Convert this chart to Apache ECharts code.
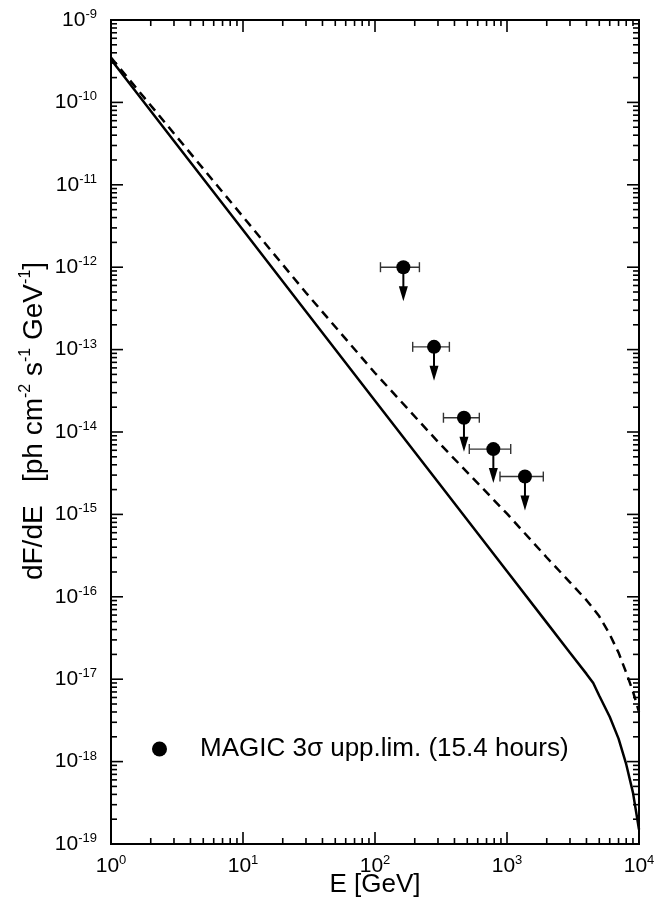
<!DOCTYPE html>
<html><head><meta charset="utf-8">
<script src="https://cdn.jsdelivr.net/npm/echarts@6/dist/echarts.min.js"></script>
<style>html,body{margin:0;padding:0;background:#fff}#c{width:668px;height:898px}</style>
</head><body><div id="c"></div>
<script>
// ---- data ----
const energyGrid = [1, 3, 10, 30, 100, 300, 1000, 2000, 3000, 4000, 4500, 5000, 6000, 7000, 8000, 9000, 10000];
const fluxSolid  = [3.31e-10, 3.41e-11, 2.82e-12, 2.90e-13, 2.40e-14, 2.47e-15, 2.04e-16, 4.86e-17, 2.10e-17, 1.16e-17, 9.0e-18, 6.3e-18, 3.5e-18, 1.9e-18, 9.3e-19, 4.2e-19, 1.5e-19];
const fluxDashed = [3.5e-10, 4.2e-11, 4.1e-12, 4.9e-13, 5.2e-14, 7.6e-15, 1.02e-15, 3.0e-16, 1.5e-16, 9.1e-17, 7.2e-17, 5.8e-17, 3.5e-17, 2.1e-17, 1.2e-17, 7.1e-18, 4.0e-18];
const magicE   = [164, 280, 472, 788, 1368];
const magicF   = [1.0e-12, 1.08e-13, 1.49e-14, 6.2e-15, 2.88e-15];
const magicElo = [110, 193, 330, 518, 885];
const magicEhi = [217, 366, 617, 1067, 1884];
const xTickExps = [0, 1, 2, 3, 4];
const yTickExps = [-19, -18, -17, -16, -15, -14, -13, -12, -11, -10, -9];
const legendLabel = 'MAGIC 3\u03c3 upp.lim. (15.4 hours)';
const xTitle = 'E [GeV]';

// ---- chart ----
const FONT = 'Liberation Sans, Arial, sans-serif';
const chart = echarts.init(document.getElementById('c'));
const supRich = {
  b: {fontSize: 21, fontFamily: FONT, color: '#000', lineHeight: 24},
  s: {fontSize: 13, fontFamily: FONT, color: '#000', lineHeight: 12, verticalAlign: 'top'}
};
function expLabel(v) {
  const e = Math.round(Math.log10(v));
  return '{b|10}{s|' + e + '}';
}
const xMinor = [], yMinor = [];
for (let k = xTickExps[0]; k < xTickExps[xTickExps.length - 1]; k++)
  for (let m = 2; m <= 9; m++) xMinor.push(m * Math.pow(10, k));
for (let k = yTickExps[0]; k < yTickExps[yTickExps.length - 1]; k++)
  for (let m = 2; m <= 9; m++) yMinor.push(m * Math.pow(10, k));
const xMajor = xTickExps.map(e => Math.pow(10, e));
const yMajor = yTickExps.map(e => Math.pow(10, e));
const xMin = xMajor[0], xMax = xMajor[xMajor.length - 1];
const yMin = yMajor[0], yMax = yMajor[yMajor.length - 1];

const option = {
  animation: false,
  backgroundColor: '#fff',
  grid: {left: 111, right: 29, top: 20, bottom: 54, show: true, borderColor: '#000', borderWidth: 2,
         backgroundColor: 'transparent', containLabel: false, outerBoundsMode: 'none'},
  xAxis: {
    type: 'log', logBase: 10, min: xMin, max: xMax, interval: 1,
    axisLine: {show: false}, axisTick: {show: false}, splitLine: {show: false}, minorTick: {show: false},
    axisLabel: {formatter: expLabel, rich: supRich, margin: 10, showMinLabel: true, showMaxLabel: true}
  },
  yAxis: {
    type: 'log', logBase: 10, min: yMin, max: yMax, interval: 1,
    axisLine: {show: false}, axisTick: {show: false}, splitLine: {show: false}, minorTick: {show: false},
    axisLabel: {formatter: expLabel, rich: supRich, margin: 14, showMinLabel: true, showMaxLabel: true}
  },
  legend: {
    left: 152, top: 736, padding: 0, itemWidth: 15, itemHeight: 15,
    data: [{name: legendLabel, icon: 'circle', itemStyle: {color: '#000', opacity: 1}}],
    textStyle: {fontSize: 26, fontFamily: FONT, color: '#000', padding: [0, 0, 0, 28]}
  },
  graphic: [{
    type: 'text', x: 34, y: 421, rotation: Math.PI / 2,
    style: {
      text: '{a|dF/dE   [ph cm}{s|-2}{a| s}{s|-1}{a| GeV}{s|-1}{a|]}',
      align: 'center', verticalAlign: 'middle',
      rich: {
        a: {fontSize: 28, fontFamily: FONT, fill: '#000', color: '#000', lineHeight: 32},
        s: {fontSize: 16, fontFamily: FONT, fill: '#000', color: '#000', lineHeight: 15, verticalAlign: 'top'}
      }
    }
  }, {
    type: 'text', x: 375, y: 885,
    style: {text: xTitle, align: 'center', verticalAlign: 'middle', fontSize: 26, fontFamily: FONT, fill: '#000'}
  }],
  series: [
    {
      type: 'line', name: 'solid', data: energyGrid.map((e, i) => [e, fluxSolid[i]]),
      showSymbol: false, symbol: 'none', lineStyle: {color: '#000', width: 2.5, type: 'solid'}, z: 3
    },
    {
      type: 'line', name: 'dashed', data: energyGrid.map((e, i) => [e, fluxDashed[i]]),
      showSymbol: false, symbol: 'none', lineStyle: {color: '#000', width: 2.5, type: [9, 6]}, z: 3
    },
    {
      type: 'custom', name: 'errors', z: 4,
      data: magicE.map((e, i) => [e, magicF[i], magicElo[i], magicEhi[i]]),
      encode: {x: 0, y: 1},
      renderItem: function (params, api) {
        const c = api.coord([api.value(0), api.value(1)]);
        const lo = api.coord([api.value(2), api.value(1)]);
        const hi = api.coord([api.value(3), api.value(1)]);
        const cap = 5, L = 34, ah = 15, aw = 4.5;
        const es = {stroke: '#333', lineWidth: 1.4};
        return {type: 'group', children: [
          {type: 'line', shape: {x1: lo[0], y1: c[1], x2: hi[0], y2: c[1]}, style: es},
          {type: 'line', shape: {x1: lo[0], y1: c[1] - cap, x2: lo[0], y2: c[1] + cap}, style: es},
          {type: 'line', shape: {x1: hi[0], y1: c[1] - cap, x2: hi[0], y2: c[1] + cap}, style: es},
          {type: 'line', shape: {x1: c[0], y1: c[1], x2: c[0], y2: c[1] + L - ah + 1}, style: {stroke: '#000', lineWidth: 2}},
          {type: 'polygon', shape: {points: [[c[0] - aw, c[1] + L - ah], [c[0] + aw, c[1] + L - ah], [c[0], c[1] + L]]}, style: {fill: '#000'}}
        ]};
      }
    },
    {
      type: 'scatter', name: legendLabel, data: magicE.map((e, i) => [e, magicF[i]]),
      symbol: 'circle', symbolSize: 14, itemStyle: {color: '#000', opacity: 1}, z: 5
    },
    {
      type: 'custom', name: 'ticks', silent: true, z: 6, data: [[xMin, yMin]], encode: {x: 0, y: 1},
      renderItem: function (params, api) {
        const bl = api.coord([xMin, yMin]), tr = api.coord([xMax, yMax]);
        const ch = [];
        const st = {stroke: '#000', lineWidth: 1.6};
        function xt(v, len) {
          const p = api.coord([v, yMin]);
          ch.push({type: 'line', shape: {x1: p[0], y1: bl[1], x2: p[0], y2: bl[1] - len}, style: st});
          ch.push({type: 'line', shape: {x1: p[0], y1: tr[1], x2: p[0], y2: tr[1] + len}, style: st});
        }
        function yt(v, len) {
          const p = api.coord([xMin, v]);
          ch.push({type: 'line', shape: {x1: bl[0], y1: p[1], x2: bl[0] + len, y2: p[1]}, style: st});
          ch.push({type: 'line', shape: {x1: tr[0], y1: p[1], x2: tr[0] - len, y2: p[1]}, style: st});
        }
        xMajor.forEach(v => xt(v, 12)); xMinor.forEach(v => xt(v, 6));
        yMajor.forEach(v => yt(v, 12)); yMinor.forEach(v => yt(v, 6));
        return {type: 'group', children: ch};
      }
    }
  ]
};
chart.setOption(option);
</script></body></html>
